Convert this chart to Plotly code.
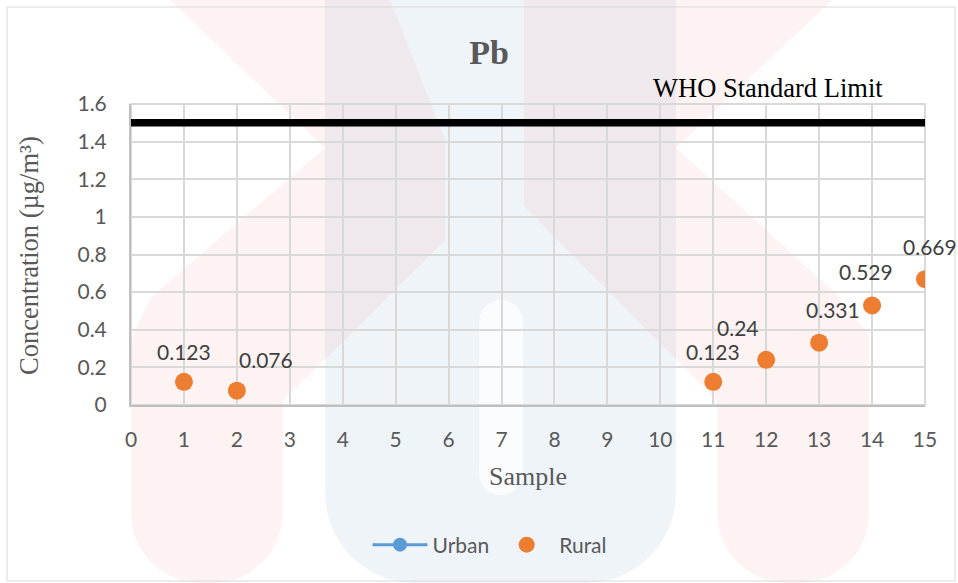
import math
import plotly.graph_objects as go

# ---- data ----
samples = [1, 2, 11, 12, 13, 14, 15]
rural = [0.123, 0.076, 0.123, 0.24, 0.331, 0.529, 0.669]
rural_labels = ["0.123", "0.076", "0.123", "0.24", "0.331", "0.529", "0.669"]
urban_x = [None]
urban_y = [None]
who_x = [0, 15]
who_limit = [1.5, 1.5]
x_ticks = list(range(0, 16))
y_ticks = [0, 0.2, 0.4, 0.6, 0.8, 1, 1.2, 1.4, 1.6]
y_tick_text = ["0", "0.2", "0.4", "0.6", "0.8", "1", "1.2", "1.4", "1.6"]

# label offsets (px) - styling only
label_dx = [0, 29, 0, -28, 14, -6, 5]
label_dy = [30, 31, 30, 32, 33, 34, 33]

W, H = 958, 583
ML, MR, MT, MB = 131, 33, 104, 178
PW, PH = W - ML - MR, H - MT - MB

def px(x):
    return (x - ML) / PW

def py(y):
    return (H - MB - y) / PH

def path(points):
    return "M " + " L ".join(f"{px(a):.4f},{py(b):.4f}" for a, b in points) + " Z"

def rounded_bottom(x0, x1, ytop, ybot, r, steps=10):
    pts = [(x0, ytop), (x1, ytop)]
    for i in range(steps + 1):
        a = math.pi / 2 * i / steps
        pts.append((x1 - r + r * math.cos(a), ybot - r + r * math.sin(a)))
    for i in range(steps + 1):
        a = math.pi / 2 + math.pi / 2 * i / steps
        pts.append((x0 + r + r * math.cos(a), ybot - r + r * math.sin(a)))
    return pts

def capsule(x0, x1, y0, y1, steps=12):
    r = (x1 - x0) / 2
    cx = (x0 + x1) / 2
    pts = []
    for i in range(steps + 1):
        a = math.pi + math.pi * i / steps
        pts.append((cx + r * math.cos(a), y0 + r + r * math.sin(a)))
    for i in range(steps + 1):
        a = math.pi * i / steps
        pts.append((cx + r * math.cos(a), y1 - r + r * math.sin(a)))
    return pts

GRAY = "#595959"
SANS = "Lato, Open Sans, sans-serif"
SERIF = "Liberation Serif, Times New Roman, serif"
TICKFONT = dict(family=SANS, size=21, color=GRAY)

fig = go.Figure()

fig.add_trace(go.Scatter(
    x=who_x, y=who_limit, mode="lines",
    line=dict(color="black", width=7.5), showlegend=False, hoverinfo="skip"))

fig.add_trace(go.Scatter(
    x=urban_x, y=urban_y, mode="lines+markers", name="Urban",
    line=dict(color="#5B9BD5", width=3),
    marker=dict(color="#5B9BD5", size=14)))

fig.add_trace(go.Scatter(
    x=samples, y=rural, mode="markers", name="Rural",
    marker=dict(color="#ED7D31", size=18)))

annotations = []
for x, y, t, dx, dy in zip(samples, rural, rural_labels, label_dx, label_dy):
    annotations.append(dict(
        x=x, y=y, xref="x", yref="y", text=t, showarrow=False,
        xshift=dx, yshift=dy, font=dict(family=SANS, size=21, color="#404040")))

annotations.append(dict(
    x=px(768), y=py(88), xref="paper", yref="paper", text="WHO Standard Limit",
    showarrow=False, font=dict(family=SERIF, size=26.5, color="black"),
    xanchor="center", yanchor="middle"))
annotations.append(dict(
    x=px(29), y=py(256), xref="paper", yref="paper", text="Concentration (µg/m³)",
    showarrow=False, textangle=-90,
    font=dict(family=SERIF, size=26.5, color=GRAY),
    xanchor="center", yanchor="middle"))
annotations.append(dict(
    x=px(528), y=py(476), xref="paper", yref="paper", text="Sample",
    showarrow=False,
    font=dict(family=SERIF, size=26, color=GRAY),
    xanchor="center", yanchor="middle"))

PINK = "rgba(235,90,90,0.075)"
BLUE = "rgba(100,150,200,0.10)"
GAP = "rgba(255,255,255,0.75)"

def shp(pts, color):
    return dict(type="path", xref="paper", yref="paper", layer="below", line=dict(width=0),
                fillcolor=color, path=path(pts))

blue_u = rounded_bottom(325, 676, 0, 583, 90)
gap = capsule(479, 523, 300, 495)
left_pink = ([(170, 0), (390, 0), (445, 140), (445, 240), (283, 401)]
             + rounded_bottom(131, 283, 401, 583, 70)[2:]
             + [(131, 340), (150, 298), (325, 148)])
right_pink = ([(524, 0), (832, 0), (676, 148), (832, 290), (869, 335)]
              + rounded_bottom(717, 869, 335, 583, 70)[2:]
              + [(717, 401), (524, 206)])

shapes = [
    shp(blue_u, BLUE),
    shp(gap, GAP),
    shp(left_pink, PINK),
    shp(right_pink, PINK),
    dict(type="rect", xref="paper", yref="paper", x0=px(7), x1=px(955), y0=py(581), y1=py(7),
         line=dict(color="#d9d9d9", width=1), fillcolor="rgba(0,0,0,0)", layer="below"),
]

fig.update_layout(
    width=W, height=H,
    margin=dict(l=ML, r=MR, t=MT, b=MB),
    paper_bgcolor="white",
    plot_bgcolor="rgba(0,0,0,0)",
    title=dict(text="<b>Pb</b>", x=px(489), xref="paper", xanchor="center",
               y=1 - 52 / H, yref="container", yanchor="middle",
               font=dict(family=SERIF, size=34, color=GRAY)),
    xaxis=dict(range=[0, 15], tickmode="array", tickvals=x_ticks, showgrid=True, gridcolor="#d9d9d9",
               gridwidth=2, showline=True, linecolor="#bfbfbf", linewidth=2,
               zeroline=False, tickfont=TICKFONT, ticks="", ticklabelstandoff=15, fixedrange=True),
    yaxis=dict(range=[0, 1.6], tickmode="array", tickvals=y_ticks, ticktext=y_tick_text, showgrid=True,
               gridcolor="#d9d9d9", gridwidth=2, showline=True, linecolor="#bfbfbf", linewidth=2,
               zeroline=False, tickfont=TICKFONT, ticks="", ticklabelstandoff=18, fixedrange=True),
    legend=dict(orientation="h", x=px(490), xanchor="center", y=py(545), yanchor="middle",
                font=dict(family=SANS, size=21, color=GRAY),
                bgcolor="rgba(0,0,0,0)", itemwidth=55),
    annotations=annotations,
    shapes=shapes,
)

fig.add_shape(type="rect", xref="paper", yref="paper", x0=0, x1=1, y0=0, y1=1,
              line=dict(color="#d9d9d9", width=2), layer="below")

fig.write_html("out.html")
